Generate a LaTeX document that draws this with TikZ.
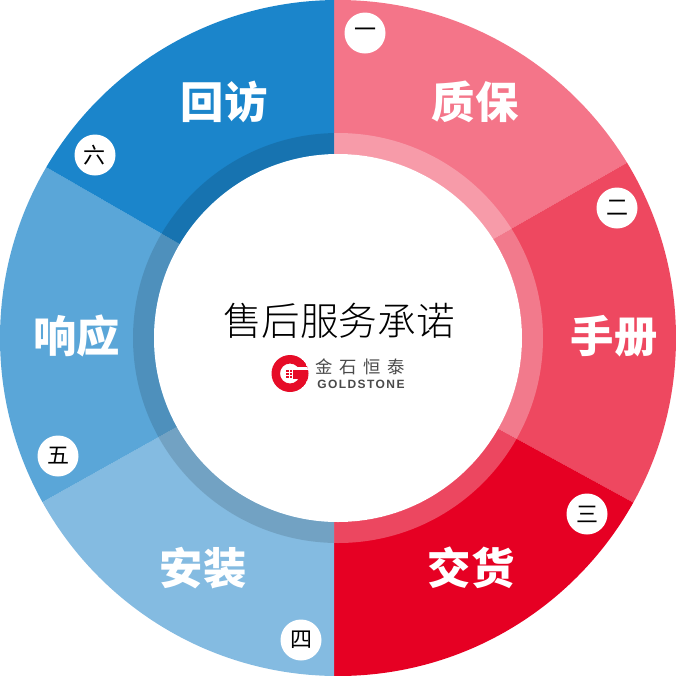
\documentclass[tikz,border=0pt]{standalone}
\usepackage{fontspec}
\setsansfont{Liberation Sans}
\newfontfamily\cjklight{Noto Sans CJK SC Light}
\newfontfamily\cjkreg{Noto Sans CJK SC}
\newfontfamily\cjklogo[LetterSpace=38]{Noto Sans CJK SC}
\newfontfamily\enlogo[LetterSpace=12]{Liberation Sans}
\definecolor{rosea}{HTML}{F47589}
\definecolor{roseb}{HTML}{EE4860}
\definecolor{redc}{HTML}{E60023}
\definecolor{bluea}{HTML}{1B85CB}
\definecolor{blueb}{HTML}{5AA6D8}
\definecolor{bluec}{HTML}{84BBE1}
\definecolor{logored}{HTML}{E60C27}
\definecolor{logogray}{HTML}{4A4A4A}
\tikzset{
  title/.style = {text=white, font=\cjkreg\fontsize{32.5}{32.5}\selectfont\bfseries},
  badge/.style = {circle, fill=white, minimum size=30.75pt, inner sep=0pt, font=\cjkreg\fontsize{16.5}{16.5}\selectfont},
}
\begin{document}
\begin{tikzpicture}[x=0.75pt, y=-0.75pt]
  \useasboundingbox (0,0) rectangle (676,676);
  \begin{scope}
    \clip (338,338) circle (338);
    \fill[rosea] (334,-10) -- (700,-10) -- (700,121) -- (334,330) -- cycle;
    \fill[roseb] (334,330) -- (700,121) -- (700,539) -- (334,339) -- cycle;
    \fill[redc] (334,339) -- (700,539) -- (700,690) -- (334,690) -- cycle;
    \fill[bluec] (334,690) -- (334,339) -- (-20,537) -- (-20,690) -- cycle;
    \fill[blueb] (334,339) -- (-20,537) -- (-20,129) -- (334,333) -- cycle;
    \fill[bluea] (334,333) -- (-20,129) -- (-20,-10) -- (334,-10) -- cycle;
  \end{scope}
  % ring
  \begin{scope}
    \clip (334,0) rectangle (676,676);
    \fill[white, opacity=0.28, even odd rule] (338,338) circle (205) circle (184);
  \end{scope}
  \begin{scope}
    \clip (0,0) rectangle (334,676);
    \fill[black, opacity=0.13, even odd rule] (338,338) circle (205) circle (184);
  \end{scope}
  \fill[white] (338,338) circle (184);
  % labels
  \node[title] (zhibao)    at (475,102) {质保};
  \node[title] (shouce)    at (614,336) {手册};
  \node[title] (jiaohuo)   at (471,568) {交货};
  \node[title] (anzhuang)  at (203,568) {安装};
  \node[title] (xiangying) at (77,336)  {响应};
  \node[title] (huifang)   at (224,102) {回访};
  \node[badge] (one)   at (365,33)  {一};
  \node[badge] (two)   at (617,208) {二};
  \node[badge] (three) at (587,514) {三};
  \node[badge] (four)  at (301,640) {四};
  \node[badge] (five)  at (58,456)  {五};
  \node[badge] (six)   at (95,155)  {六};
  \node[font=\cjklight\fontsize{29}{29}\selectfont] (heading) at (339,321) {售后服务承诺};
  % logo
  \begin{scope}
    \clip (290,373.5) circle (18.5);
    \fill[logored, even odd rule] (290,373.5) circle (18.5) circle (10);
    \fill[white] (291,366.5) rectangle (310,370);
    \fill[logored] (293,370) rectangle (310,379);
    \foreach \y in {370,373,376} \fill[logored] (286,\y) rectangle (292,\y+1.7);
    \fill[white] (289,369) rectangle (289.8,378);
  \end{scope}
  \node[font=\cjklogo\fontsize{13}{13}\selectfont, text=logogray, anchor=west, inner sep=0pt] (logocn) at (315,367) {金石恒泰};
  \node[font=\enlogo\bfseries\fontsize{9}{9}\selectfont, text=logogray, anchor=west, inner sep=0pt] (logoen) at (317,384) {GOLDSTONE};
\end{tikzpicture}
\end{document}
